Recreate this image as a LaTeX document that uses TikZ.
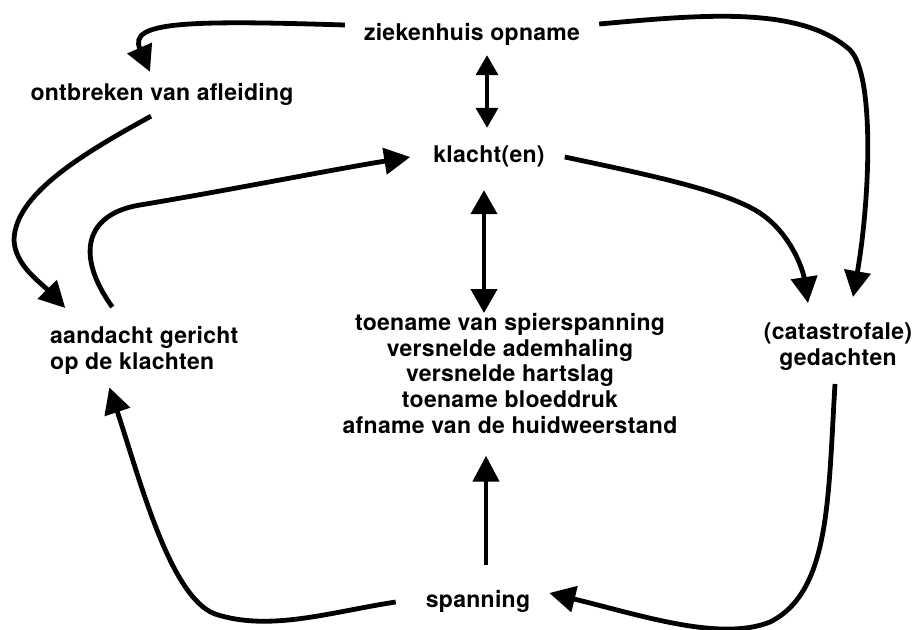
\documentclass[tikz,border=0pt]{standalone}
\usepackage{fontspec}
\setmainfont[LetterSpace=1.2]{TeX Gyre Heros}
\usetikzlibrary{arrows.meta}
\begin{document}
\begin{tikzpicture}[x=1pt,y=-1pt,
  lbl/.style={inner sep=0pt,font=\fontsize{23}{25.75}\bfseries\selectfont},
  sl/.style={lbl,text height=17pt,text depth=5pt,anchor=base},
  arr/.style={line width=4.8pt,-{Triangle[length=26pt,width=26pt]}},
  darr/.style={line width=4.3pt,{Triangle[length=24pt,width=26pt]}-{Triangle[length=24pt,width=26pt]}},
  sarr/.style={line width=3.6pt,{Triangle[length=20pt,width=22pt]}-{Triangle[length=20pt,width=22pt]}}]
\useasboundingbox[fill=white] (0,0) rectangle (915,629);
% nodes
\node[sl] (zk) at (472,40) {ziekenhuis opname};
\node[sl] (ob) at (162,100) {ontbreken van afleiding};
\node[sl] (kl) at (489,162) {klacht(en)};
\node[sl] (sp) at (478,607) {spanning};
\node[lbl,align=left,anchor=north west] (aa) at (50,326) {aandacht gericht\\op de klachten};
\node[lbl,align=center,anchor=north] (bl) at (510,313) {toename van spierspanning\\versnelde ademhaling\\versnelde hartslag\\toename bloeddruk\\afname van de huidweerstand};
\node[lbl,align=center,anchor=north] (gd) at (838,323) {(catastrofale)\\gedachten};
% connectors
\draw[arr] ([shift={(-19,-9)}]zk.west) .. controls +(-160,-5) and +(-22,-50) .. ([shift={(-12,-11)}]ob.north);
\draw[arr] ([shift={(-11,11)}]ob.south) .. controls (80,155) and (15,195) .. (14,240) .. controls (15,265) and (40,282) .. ([shift={(-79,-18)}]aa.north);
\draw[arr] ([shift={(-32,-19)}]aa.north) .. controls (75,255) and (85,214) .. (140,205) .. controls (230,190) and (330,170) .. ([shift={(-23,1)}]kl.west);
\draw[sarr] ([shift={(15,10)}]zk.south) -- ([shift={(-2,-17)}]kl.north);
\draw[darr] ([shift={(-5,23)}]kl.south) -- ([shift={(-26,0)}]bl.north);
\draw[arr] ([shift={(20,1)}]kl.east) .. controls (650,175) and (720,190) .. (755,210) .. controls (790,230) and (803,270) .. ([shift={(-30,-20)}]gd.north);
\draw[arr] ([shift={(19,-10)}]zk.east) .. controls (700,15) and (800,5) .. (850,50) .. controls (875,75) and (870,200) .. ([shift={(15,-26)}]gd.north);
\draw[arr] ([shift={(8,-25)}]sp.north) -- ([shift={(-24,22)}]bl.south);
\draw[arr] ([shift={(-3,13)}]gd.south) .. controls (828,500) and (830,592) .. (770,622) .. controls (720,642) and (640,615) .. ([shift={(19,-8)}]sp.east);
\draw[arr] ([shift={(-30,1)}]sp.west) .. controls (330,612) and (270,632) .. (215,614) .. controls (170,597) and (140,480) .. ([shift={(-35,13)}]aa.south);
\end{tikzpicture}
\end{document}
